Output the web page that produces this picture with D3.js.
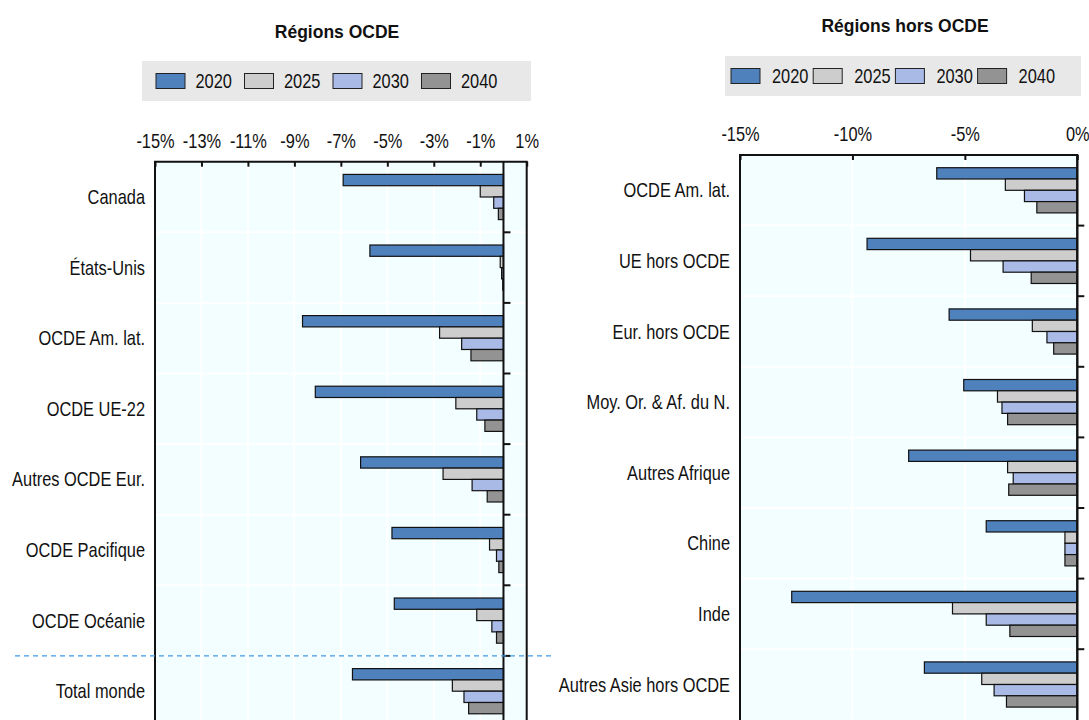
<!DOCTYPE html>
<html>
<head>
<meta charset="utf-8">
<script src="https://cdn.jsdelivr.net/npm/d3@7"></script>
<style>
  body { margin: 0; background: #fff; }
  svg text { font-family: "Liberation Sans", Arial, sans-serif; fill: #111; }
  .title { font-weight: bold; }
</style>
</head>
<body>
<svg id="chart" width="1089" height="720"></svg>
<script>
// data
const years = ["2020", "2025", "2030", "2040"];

const oecdRegions = ["Canada", "États-Unis", "OCDE Am. lat.", "OCDE UE-22", "Autres OCDE Eur.", "OCDE Pacifique", "OCDE Océanie", "Total monde"];
const oecd2020 = [-6.9, -5.75, -8.65, -8.1, -6.15, -4.8, -4.7, -6.5];
const oecd2025 = [-1.0, -0.14, -2.75, -2.05, -2.6, -0.6, -1.15, -2.2];
const oecd2030 = [-0.42, -0.08, -1.8, -1.15, -1.35, -0.3, -0.5, -1.7];
const oecd2040 = [-0.22, -0.03, -1.4, -0.8, -0.7, -0.2, -0.3, -1.5];
const oecdTicks = [-15, -13, -11, -9, -7, -5, -3, -1, 1];

const nonOecdRegions = ["OCDE Am. lat.", "UE hors OCDE", "Eur. hors OCDE", "Moy. Or. & Af. du N.", "Autres Afrique", "Chine", "Inde", "Autres Asie hors OCDE"];
const non2020 = [-6.25, -9.35, -5.7, -5.05, -7.5, -4.05, -12.7, -6.8];
const non2025 = [-3.2, -4.75, -2.0, -3.55, -3.1, -0.55, -5.55, -4.25];
const non2030 = [-2.35, -3.3, -1.35, -3.35, -2.85, -0.55, -4.05, -3.7];
const non2040 = [-1.8, -2.05, -1.05, -3.1, -3.05, -0.55, -3.0, -3.15];
const nonOecdTicks = [-15, -10, -5, 0];

const colors = d3.scaleOrdinal()
    .domain(years)
    .range(["#4f81bd", "#cdcdcd", "#a8bae5", "#939393"]);

// no narrow font installed, so squeeze the regular one
const squeeze = "scale(0.82,1)";

const svg = d3.select("#chart");

function buildRows(cats, s1, s2, s3, s4) {
    return cats.map((c, i) => ({ cat: c, values: [s1[i], s2[i], s3[i], s4[i]] }));
}

function drawPanel(opts) {
    const g = svg.append("g");
    const x = d3.scaleLinear().domain(opts.domain).range([opts.left, opts.right]);
    const y = d3.scaleBand().domain(opts.rows.map(d => d.cat))
        .range([opts.top, opts.bottom])
        .paddingInner(0.36).paddingOuter(0.18);
    const ySub = d3.scaleBand().domain(years).range([0, y.bandwidth()]);

    // title
    g.append("text")
        .attr("class", "title")
        .attr("x", opts.titleX)
        .attr("y", opts.titleY)
        .attr("text-anchor", "middle")
        .style("font-size", "17.5px")
        .text(opts.title);

    // legend
    const lg = g.append("g");
    lg.append("rect")
        .attr("x", opts.legend.x).attr("y", opts.legend.y)
        .attr("width", opts.legend.w).attr("height", opts.legend.h)
        .attr("fill", "#e8e8e8");
    const items = lg.selectAll(".item")
        .data(years)
        .join("g")
        .attr("transform", (d, i) => `translate(${opts.legend.x + opts.legend.first + i * opts.legend.step}, ${opts.legend.y + opts.legend.h / 2})`);
    items.append("rect")
        .attr("x", 0).attr("y", -7.5)
        .attr("width", 29).attr("height", 15)
        .attr("fill", d => colors(d))
        .attr("stroke", "#222").attr("stroke-width", 1);
    items.append("text")
        .attr("transform", `translate(${opts.legend.textDx}, 7) ${squeeze}`)
        .style("font-size", "20px")
        .text(d => d);

    const step = y.step();
    const bottom = opts.top + step * opts.rows.length;

    // plot background
    g.append("rect")
        .attr("x", opts.left).attr("y", opts.top)
        .attr("width", opts.right - opts.left).attr("height", bottom - opts.top)
        .attr("fill", "#f2feff");

    // grid
    g.selectAll(".vgrid")
        .data(opts.ticks)
        .join("line")
        .attr("x1", d => x(d)).attr("x2", d => x(d))
        .attr("y1", opts.top).attr("y2", bottom)
        .attr("stroke", "#fff").attr("stroke-width", 2);
    g.selectAll(".hgrid")
        .data(d3.range(1, opts.rows.length))
        .join("line")
        .attr("x1", opts.left).attr("x2", opts.right)
        .attr("y1", d => opts.top + d * step).attr("y2", d => opts.top + d * step)
        .attr("stroke", "#fff").attr("stroke-width", 2);

    // bars
    const groups = g.selectAll(".grp")
        .data(opts.rows)
        .join("g")
        .attr("transform", d => `translate(0, ${y(d.cat)})`);
    groups.selectAll("rect")
        .data(d => d.values.map((v, i) => ({ year: years[i], v: v })))
        .join("rect")
        .attr("x", d => x(Math.min(0, d.v)))
        .attr("y", d => ySub(d.year))
        .attr("width", d => Math.abs(x(d.v) - x(0)))
        .attr("height", ySub.bandwidth())
        .attr("fill", d => colors(d.year))
        .attr("stroke", "#111")
        .attr("stroke-width", 1.2);

    // top axis
    const axis = d3.axisTop(x)
        .tickValues(opts.ticks)
        .tickSize(-5)
        .tickPadding(14)
        .tickFormat(d => d + "%");
    const ax = g.append("g")
        .attr("transform", `translate(0, ${opts.top})`)
        .call(axis);
    ax.select(".domain").remove();
    ax.selectAll(".tick line").attr("stroke", "#111").attr("stroke-width", 2);
    ax.selectAll(".tick text")
        .style("font-size", "20px")
        .attr("fill", "#111")
        .attr("transform", squeeze);

    // frame
    g.append("path")
        .attr("d", `M${opts.left},${bottom + 5}V${opts.top}H${opts.right}V${bottom + 5}`)
        .attr("fill", "none")
        .attr("stroke", "#111")
        .attr("stroke-width", 2);

    // zero line with category ticks
    g.append("line")
        .attr("x1", x(0)).attr("x2", x(0))
        .attr("y1", opts.top).attr("y2", bottom + 5)
        .attr("stroke", "#111").attr("stroke-width", 2);
    g.selectAll(".ytick")
        .data(d3.range(1, opts.rows.length))
        .join("line")
        .attr("x1", x(0)).attr("x2", x(0) + 7)
        .attr("y1", d => opts.top + d * step).attr("y2", d => opts.top + d * step)
        .attr("stroke", "#111").attr("stroke-width", 2);

    // category labels
    g.selectAll(".cat")
        .data(opts.rows)
        .join("text")
        .attr("transform", d => `translate(${opts.left - 10}, ${y(d.cat) + y.bandwidth() / 2 + 7}) ${squeeze}`)
        .attr("text-anchor", "end")
        .style("font-size", "20px")
        .text(d => d.cat);

    return { x, y, step, bottom };
}

const left = drawPanel({
    rows: buildRows(oecdRegions, oecd2020, oecd2025, oecd2030, oecd2040),
    domain: [-15, 1], ticks: oecdTicks,
    left: 155, right: 526.7, top: 161.7, bottom: 161.7 + 8 * 70.6,
    title: "Régions OCDE", titleX: 337, titleY: 38,
    legend: { x: 142, y: 61, w: 389, h: 40, first: 14, step: 88.5, textDx: 39.5 }
});

// separator before the world total
const sepY = 161.7 + 7 * left.step;
svg.append("line")
    .attr("x1", 15).attr("x2", 552)
    .attr("y1", sepY).attr("y2", sepY)
    .attr("stroke", "#3d9be9")
    .attr("stroke-width", 1.3)
    .attr("stroke-dasharray", "5,4");

drawPanel({
    rows: buildRows(nonOecdRegions, non2020, non2025, non2030, non2040),
    domain: [-15, 0], ticks: nonOecdTicks,
    left: 740, right: 1077.3, top: 155, bottom: 155 + 8 * 70.6,
    title: "Régions hors OCDE", titleX: 905, titleY: 32,
    legend: { x: 725, y: 56, w: 356, h: 40, first: 6, step: 82.2, textDx: 41 }
});
</script>
</body>
</html>
